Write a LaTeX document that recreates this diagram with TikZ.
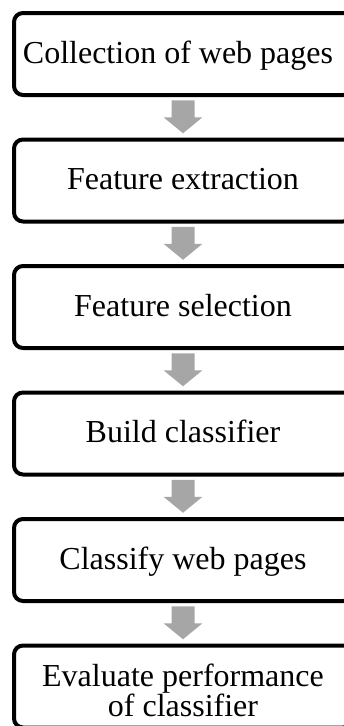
\documentclass[tikz,border=0pt]{standalone}
\usepackage{fontspec}
\setmainfont{Liberation Serif}
\usetikzlibrary{calc}
\definecolor{arrowgray}{RGB}{166,166,166}
\begin{document}
\begin{tikzpicture}[x=1pt,y=-1pt,
  stepbox/.style={draw=black, line width=4pt, rounded corners=9pt,
    minimum width=338pt, minimum height=82pt, inner sep=0pt, outer sep=0pt,
    font=\fontsize{32}{26}\selectfont, align=center},
  onetext/.style={text height=24pt, text depth=6pt},
  arrowfill/.style={fill=arrowgray}]
\useasboundingbox (0,0) rectangle (344,726);
\clip (0,0) rectangle (344,726);
\node[stepbox,onetext] (b1) at (183,54) {Collection of web pages\hspace*{10pt}};
\node[stepbox,onetext] (b2) at (183,180.5) {Feature extraction};
\node[stepbox,onetext] (b3) at (183,307) {Feature selection};
\node[stepbox,onetext] (b4) at (183,433.5) {Build classifier};
\node[stepbox,onetext] (b5) at (183,560) {Classify web pages};
\node[stepbox,text height=66pt,text depth=6pt] (b6) at (183,686.5) {Evaluate performance\\of classifier};
\newcommand\flowarrow[2]{%
  \coordinate (m#1#2) at ($(#1.south)!0.5!(#2.north)$);
  \fill[arrowfill] ([shift={(-11.5,-17)}]m#1#2) -- ([shift={(11.5,-17)}]m#1#2)
    -- ([shift={(11.5,0)}]m#1#2) -- ([shift={(19.5,0)}]m#1#2)
    -- ([shift={(0,16)}]m#1#2) -- ([shift={(-19.5,0)}]m#1#2)
    -- ([shift={(-11.5,0)}]m#1#2) -- cycle;}
\flowarrow{b1}{b2}
\flowarrow{b2}{b3}
\flowarrow{b3}{b4}
\flowarrow{b4}{b5}
\flowarrow{b5}{b6}
\end{tikzpicture}
\end{document}
